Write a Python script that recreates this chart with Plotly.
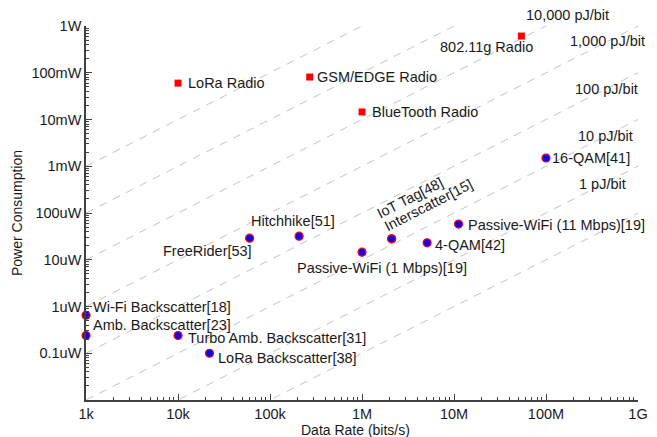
import numpy as np
import plotly.graph_objects as go

# ---------------- data ----------------
radio_names = ["LoRa Radio", "GSM/EDGE Radio", "BlueTooth Radio", "802.11g Radio"]
radio_rate = [1.0e4, 2.7e5, 1.0e6, 5.4e7]          # bits/s
radio_power = [6.0e-2, 8.1e-2, 1.45e-2, 6.1e-1]    # W

bs_names = ["16-QAM[41]", "Hitchhike[51]", "FreeRider[53]", "Wi-Fi Backscatter[18]",
            "Amb. Backscatter[23]", "Turbo Amb. Backscatter[31]", "LoRa Backscatter[38]",
            "Passive-WiFi (1 Mbps)[19]", "Interscatter[15]", "IoT Tag[48]",
            "4-QAM[42]", "Passive-WiFi (11 Mbps)[19]"]
bs_rate = [1.0e8, 2.07e5, 6.0e4, 1.0e3, 1.0e3, 1.0e4, 2.2e4, 1.0e6, 2.1e6, 2.1e6, 5.1e6, 1.12e7]
bs_power = [1.5e-3, 3.2e-5, 2.9e-5, 6.5e-7, 2.4e-7, 2.4e-7, 1.0e-7, 1.45e-5, 2.8e-5, 2.8e-5, 2.3e-5, 5.8e-5]

energy_pj = [0.1, 1, 10, 100, 1000, 1e4, 1e5, 1e6]   # pJ/bit reference lines
energy_label_text = ["1 pJ/bit", "10 pJ/bit", "100 pJ/bit", "1,000 pJ/bit", "10,000 pJ/bit"]
energy_label_pj = [1, 10, 100, 1000, 1e4]

x_tick_vals = [1e3, 1e4, 1e5, 1e6, 1e7, 1e8, 1e9]
x_tick_text = ["1k", "10k", "100k", "1M", "10M", "100M", "1G"]
y_tick_vals = [1e-7, 1e-6, 1e-5, 1e-4, 1e-3, 1e-2, 1e-1, 1]
y_tick_text = ["0.1uW", "1uW", "10uW", "100uW", "1mW", "10mW", "100mW", "1W"]

x_title = "Data Rate (bits/s)"
y_title = "Power Consumption"

# ---------------- styling / placement ----------------
FONT = "Liberation Sans, Arial, sans-serif"
TXT = "#1a1a1a"
AX = "#404040"
FS = 14.5
X_RANGE = [2.9995, 9.0]
Y_RANGE = [-8.0, 0.0]

# label placement: (xanchor, xshift px, yshift px, textangle)
radio_label_pos = [("left", 8, 0, 0), ("left", 5, 0, 0), ("left", 8, 0, 0), ("right", 14, -11, 0)]
bs_label_pos = [("left", 4, 0, 0), ("center", -6, 15, 0), ("right", 4, -13, 0), ("left", 5, 8, 0),
                ("left", 5, 10, 0), ("left", 8, -3, 0), ("left", 6, -5, 0), ("right", 107, -16, 0),
                ("center", 37, 34, -27), ("center", 18, 41, -27), ("left", 6, -2, 0), ("left", 7, -1, 0)]
energy_label_rate = [10**8.61, 10**8.65, 10**8.66, 10**8.67, 10**8.23]

fig = go.Figure()

# energy-per-bit reference lines
line_rate = np.array([1e3, 1e9])
for e in energy_pj:
    fig.add_trace(go.Scatter(
        x=line_rate, y=e * 1e-12 * line_rate, mode="lines",
        line=dict(color="#c4c4c4", width=1, dash="8px,7px"),
        hoverinfo="skip", showlegend=False))

# radios
fig.add_trace(go.Scatter(
    x=radio_rate, y=radio_power, mode="markers",
    marker=dict(symbol="square", size=7, color="#ff0000", line=dict(width=0)),
    showlegend=False, cliponaxis=False))

# backscatter systems
fig.add_trace(go.Scatter(
    x=bs_rate, y=bs_power, mode="markers",
    marker=dict(symbol="circle", size=8, color="#0000ff", line=dict(width=1.2, color="#ff0000")),
    showlegend=False, cliponaxis=False))

annotations = []
for name, r, p, (xa, xs, ys, ang) in zip(radio_names, radio_rate, radio_power, radio_label_pos):
    annotations.append(dict(x=np.log10(r), y=np.log10(p), xref="x", yref="y", text=name,
                            showarrow=False, xanchor=xa, yanchor="middle", xshift=xs, yshift=ys,
                            textangle=ang, font=dict(family=FONT, size=FS, color=TXT)))
for name, r, p, (xa, xs, ys, ang) in zip(bs_names, bs_rate, bs_power, bs_label_pos):
    annotations.append(dict(x=np.log10(r), y=np.log10(p), xref="x", yref="y", text=name,
                            showarrow=False, xanchor=xa, yanchor="middle", xshift=xs, yshift=ys,
                            textangle=ang, font=dict(family=FONT, size=FS, color=TXT)))
# pJ/bit labels sit on their lines; use paper coords so the top one may lie above the axes
for txt, e, r in zip(energy_label_text, energy_label_pj, energy_label_rate):
    lx = (np.log10(r) - X_RANGE[0]) / (X_RANGE[1] - X_RANGE[0])
    ly = (np.log10(e * 1e-12 * r) - Y_RANGE[0]) / (Y_RANGE[1] - Y_RANGE[0])
    annotations.append(dict(x=lx, y=ly, xref="paper", yref="paper", text=txt,
                            showarrow=False, xanchor="center", yanchor="middle",
                            font=dict(family=FONT, size=FS, color=TXT)))
# x-axis title (slightly left of centre, as in the reference)
annotations.append(dict(x=0.488, y=-0.081, xref="paper", yref="paper", text=x_title,
                        showarrow=False, xanchor="center", yanchor="middle",
                        font=dict(family=FONT, size=14, color=TXT)))


def minor_vals(lo, hi):
    return [m * 10.0**k for k in range(lo, hi) for m in range(2, 10)]


axis_common = dict(
    type="log", showline=True, linecolor=AX, linewidth=1.5, mirror=False,
    showgrid=False, zeroline=False, ticks="inside", ticklen=6, tickwidth=1, tickcolor=AX,
    tickfont=dict(family=FONT, size=FS, color=TXT), tickmode="array",
)

# page body has an 8px margin: shrink the figure so the plot area lands where the reference's is
fig.update_layout(
    width=649, height=429,
    margin=dict(l=78, r=19, t=18, b=37),
    plot_bgcolor="white", paper_bgcolor="white",
    showlegend=False,
    annotations=annotations,
    xaxis=dict(**axis_common, range=X_RANGE, tickvals=x_tick_vals, ticktext=x_tick_text,
               minor=dict(tickmode="array", tickvals=minor_vals(3, 9), ticks="inside",
                          ticklen=3, tickcolor=AX, showgrid=False),
               automargin=False),
    yaxis=dict(**axis_common, range=Y_RANGE, tickvals=y_tick_vals, ticktext=y_tick_text,
               minor=dict(tickmode="array", tickvals=minor_vals(-8, 0), ticks="inside",
                          ticklen=3, tickcolor=AX, showgrid=False),
               title=dict(text=y_title, standoff=5,
                          font=dict(family=FONT, size=14, color=TXT)),
               automargin=False),
)

fig.write_html("out.html")
